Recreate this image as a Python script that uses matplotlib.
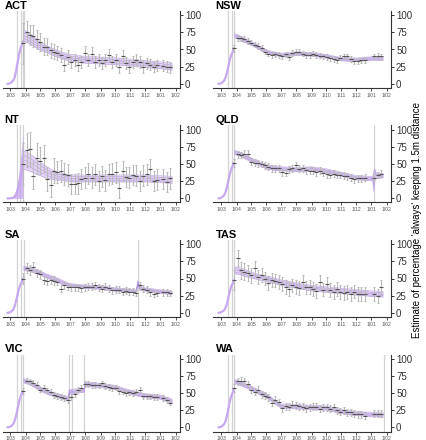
import numpy as np
import matplotlib
matplotlib.use("Agg")
import matplotlib.pyplot as plt

plt.rcParams['font.family'] = ['Liberation Sans', 'DejaVu Sans']

# days counted from 1 March 2020
month_ticks = [0, 31, 61, 92, 122, 153, 184, 214, 245, 275, 306, 337]
month_labels = ['1/03', '1/04', '1/05', '1/06', '1/07', '1/08', '1/09',
                '1/10', '1/11', '1/12', '1/01', '1/02']

states = ['ACT', 'NSW', 'NT', 'QLD', 'SA', 'TAS', 'VIC', 'WA']

# survey waves (point estimates)
survey_days = [26, 33, 40, 47, 54, 61, 68, 75, 82, 89, 96, 103, 110, 117, 124,
               131, 138, 145, 152, 159, 166, 173, 180, 187, 194, 201, 208, 215,
               222, 229, 236, 243, 250, 257, 264, 271, 278, 285, 292, 299,
               312, 319, 326]
nan = np.nan
pts_ACT = [59, 76, 71, 69, 65, 61, 54, 54, 49, 47, 45, 42, 28, 39, 32, 35, 28, 32, 45, 35,
           44, 32, 35, 30, 35, 42, 32, 35, 25, 40, 30, 25, 32, 35, 32, 25, 30, 28, 25, 27,
           26, 25, 24]
err_ACT = [30, 15, 14, 16, 14, 13, 12, 12, 11, 11, 10, 10, 9, 10, 9, 9, 9, 9, 10, 9,
           10, 9, 9, 9, 9, 9, 9, 9, 9, 9, 9, 9, 9, 9, 9, 9, 8, 8, 8, 8, 8, 8, 8]
pts_NSW = [52, 67, 66, 65, 62, 60, 57, 55, 52, 47, 44, 42, 43, 42, 40, 43, 39, 45, 46, 46,
           44, 42, 42, 44, 42, 41, 40, 39, 37, 36, 35, 38, 40, 40, 36, 33, 33, 34, 35, nan,
           40, 41, 40]
err_NSW = [5, 4, 4, 4, 4, 4, 4, 4, 4, 4, 4, 4, 4, 4, 4, 4, 4, 4, 4, 4,
           4, 4, 4, 4, 4, 4, 4, 4, 4, 4, 4, 4, 4, 4, 4, 4, 4, 4, 4, 4, 4, 4, 4]
pts_NT = [50, 70, 72, 33, 58, 55, 58, 28, 20, 40, 39, 40, 35, 34, 21, 21, 22, 28, 30, 36,
          30, 35, 25, 32, 26, 35, 36, 38, 15, 40, 31, 30, 34, 33, 25, 33, 35, 42, 25, 27,
          28, 24, 29]
err_NT = [30, 25, 25, 20, 22, 20, 20, 18, 18, 18, 16, 16, 16, 16, 15, 15, 15, 15, 15, 15,
          15, 15, 15, 15, 15, 15, 15, 15, 15, 15, 15, 15, 15, 15, 15, 15, 15, 15, 15, 15,
          15, 15, 15]
pts_QLD = [51, 64, 63, 65, 65, 53, 52, 51, 50, 48, 46, 44, 44, 44, 38, 37, 42, 44, 48, 43,
           44, 41, 40, 40, 38, 40, 37, 35, 34, 36, 34, 34, 33, 32, 30, 28, 29, 29, 30, nan,
           30, 34, 36]
err_QLD = [6, 5, 5, 5, 5, 5, 5, 5, 5, 5, 5, 5, 5, 5, 5, 5, 5, 5, 5, 5,
           5, 5, 5, 5, 5, 5, 5, 5, 5, 5, 5, 5, 5, 5, 5, 5, 5, 5, 5, 5, 5, 5, 5]
pts_SA = [50, 65, 62, 67, 58, 56, 48, 46, 48, 47, 45, 35, 40, 38, 37, 37, 37, 36, 37, 38,
          38, 40, 37, 35, 38, 36, 33, 34, 34, 31, 32, 31, 31, 29, 40, 35, 34, 30, 28, 29,
          30, 30, 29]
err_SA = [8, 7, 7, 7, 6, 6, 6, 6, 6, 6, 5, 5, 5, 5, 5, 5, 5, 5, 5, 5,
          5, 5, 5, 5, 5, 5, 5, 5, 5, 5, 5, 5, 5, 5, 5, 5, 5, 5, 5, 5, 5, 5, 5]
pts_TAS = [48, 80, 62, 60, 58, 55, 65, 52, 55, 50, 44, 48, 47, 45, 42, 38, 35, 40, 38, 36,
           45, 37, 38, 35, 32, 45, 34, 42, 33, 30, 35, 30, 29, 30, 28, 31, 28, 28, 27, nan,
           28, 25, 38]
err_TAS = [15, 12, 12, 12, 11, 11, 11, 10, 10, 10, 10, 10, 10, 10, 10, 10, 10, 10, 10, 10,
           10, 10, 10, 10, 10, 10, 10, 10, 10, 10, 10, 10, 10, 10, 10, 10, 10, 10, 10, 10,
           10, 10, 10]
pts_VIC = [53, 68, 67, 65, 62, 55, 57, 54, 52, 47, 46, 44, 43, 40, 44, 48, 55, 57, 63, 63,
           62, 62, 61, 64, 60, 59, 57, 58, 53, 52, 50, 51, 50, 52, 55, 46, 45, 45, 44, 44,
           43, 40, 36]
err_VIC = [5, 4, 4, 4, 4, 4, 4, 4, 4, 4, 4, 4, 4, 4, 4, 4, 4, 4, 4, 4,
           4, 4, 4, 4, 4, 4, 4, 4, 4, 4, 4, 4, 4, 4, 4, 4, 4, 4, 4, 4, 4, 4, 4]
pts_WA = [57, 67, 68, 67, 63, 55, 52, 55, 48, 46, 44, 36, 40, 37, 28, 31, 30, 33, 32, 31,
          30, 28, 29, 30, 30, 27, 29, 29, 27, 29, 25, 23, 25, 22, 22, 20, 19, 19, 17, nan,
          20, 20, 20]
err_WA = [6, 5, 5, 5, 5, 5, 5, 5, 5, 5, 5, 5, 5, 5, 5, 5, 5, 5, 5, 5,
          5, 5, 5, 5, 5, 5, 5, 5, 5, 5, 5, 5, 5, 5, 5, 5, 5, 5, 5, 5, 5, 5, 5]

# modelled rise in March
ramp_days = [-6, -2, 2, 6, 9, 12, 15, 18, 21, 24, 26]
ramp_ACT = [0, 0.5, 2, 5, 10, 20, 32, 44, 52, 58, 62]
ramp_NSW = [0, 0.5, 2, 5, 10, 18, 28, 37, 43, 48, 52]
ramp_NT = [0, 0, 0.5, 1, 3, 6, 12, 20, 30, 45, 60]
ramp_NT_hi = [0, 0, 1, 3, 8, 15, 25, 40, 60, 80, 95]
ramp_QLD = [0, 0.5, 2, 5, 10, 18, 28, 37, 44, 49, 52]
ramp_SA = [0, 0.5, 2, 5, 10, 18, 28, 36, 42, 46, 50]
ramp_TAS = [0, 0.5, 2, 4, 8, 15, 25, 33, 40, 44, 48]
ramp_VIC = [0, 0.5, 2, 5, 10, 18, 28, 38, 45, 50, 53]
ramp_WA = [0, 0.5, 2, 5, 10, 19, 30, 40, 47, 52, 56]

# modelled trend after the peak (mid and half width of band)
trend_days = [27, 35, 45, 61, 76, 92, 107, 122, 153, 184, 214, 245, 275, 306, 330]
trend_ACT = [70, 68, 63, 55, 50, 45, 41, 38, 35, 34, 33, 31, 29, 27, 25]
half_ACT = [8, 8, 7, 6, 5, 5, 5, 5, 5, 5, 5, 5, 5, 5, 5]
trend_NSW = [70, 68, 64, 59, 53, 47, 44, 42, 44, 43, 40, 36, 35, 37, 37]
half_NSW = [3, 3, 3, 2.5, 2.5, 2.5, 2.5, 2.5, 2.5, 2.5, 2.5, 2.5, 2.5, 2.5, 3]
trend_NT = [56, 54, 50, 43, 37, 33, 31, 29, 29, 29, 29, 29, 29, 28, 27]
half_NT = [13, 13, 12, 10, 8, 6, 5, 5, 5, 5, 5, 5, 5, 5, 5]
trend_days_QLD = [27, 35, 45, 61, 76, 92, 107, 122, 153, 184, 214, 245, 275, 306,
                  309, 311, 313, 316, 330]
trend_QLD = [67, 65, 62, 56, 51, 46, 44, 43, 42, 43, 40, 35, 30, 29, 28, 25, 35, 33, 33]
half_QLD = [3, 3, 3, 3, 3, 3, 3, 3, 3, 3, 3, 3, 3, 3, 4, 15, 8, 4, 3]
trend_days_SA = [27, 35, 45, 61, 76, 92, 107, 122, 153, 184, 214, 245, 257, 260, 264,
                 275, 306, 330]
trend_SA = [65, 64, 62, 58, 53, 49, 44, 40, 38, 37, 34, 32, 31, 44, 36, 34, 31, 29]
half_SA = [3, 3, 3, 3, 3, 3, 3, 2.5, 2.5, 2.5, 2.5, 2.5, 2.5, 3, 3, 2.5, 2.5, 2.5]
trend_TAS = [62, 61, 59, 55, 52, 50, 47, 44, 40, 36, 34, 32, 30, 28, 27]
half_TAS = [5, 5, 5, 4.5, 4, 4, 4, 4, 4, 4, 4, 4, 4, 4, 4]
trend_days_VIC = [27, 35, 45, 61, 76, 92, 107, 119, 120, 151, 152, 184, 214, 245, 275,
                  306, 330]
trend_VIC = [68, 66, 63, 56, 51, 47, 44, 41, 52, 54, 63, 61, 58, 51, 46, 44, 38]
half_VIC = [3, 3, 3, 3, 3, 3, 3, 3, 3, 3, 3, 3, 3, 3, 3, 3, 3]
trend_WA = [67, 65, 62, 57, 51, 46, 38, 31, 30, 29, 28, 23, 20, 19, 18]
half_WA = [3, 3, 3, 3, 3, 3, 3, 3, 3, 3, 3, 3, 3, 3, 3]

# policy dates (grey vertical lines)
vlines_ACT = [13, 21, 25, 27]
vlines_NSW = [13, 21, 25]
vlines_NT = [13, 20, 25]
vlines_QLD = [13, 21, 25, 311]
vlines_SA = [13, 21, 27, 260]
vlines_TAS = [13, 21, 25]
vlines_VIC = [13, 21, 25, 120, 126, 151]
vlines_WA = [13, 21, 25, 332]

data = {
    'ACT': (pts_ACT, err_ACT, ramp_ACT, trend_days, trend_ACT, half_ACT, vlines_ACT),
    'NSW': (pts_NSW, err_NSW, ramp_NSW, trend_days, trend_NSW, half_NSW, vlines_NSW),
    'NT': (pts_NT, err_NT, ramp_NT, trend_days, trend_NT, half_NT, vlines_NT),
    'QLD': (pts_QLD, err_QLD, ramp_QLD, trend_days_QLD, trend_QLD, half_QLD, vlines_QLD),
    'SA': (pts_SA, err_SA, ramp_SA, trend_days_SA, trend_SA, half_SA, vlines_SA),
    'TAS': (pts_TAS, err_TAS, ramp_TAS, trend_days, trend_TAS, half_TAS, vlines_TAS),
    'VIC': (pts_VIC, err_VIC, ramp_VIC, trend_days_VIC, trend_VIC, half_VIC, vlines_VIC),
    'WA': (pts_WA, err_WA, ramp_WA, trend_days, trend_WA, half_WA, vlines_WA),
}

ramp_col = '#c6a9ee'
band_col = '#dccaf3'
line_col = '#ad8fdc'
spine_col = '#333333'

fig = plt.figure(figsize=(4.26, 4.40), dpi=100)
W, H = 426.0, 440.0
col_left = [2.5, 213.5]
row_bottom = [88, 202.5, 317, 431.5]

for i, st in enumerate(states):
    r, c = i // 2, i % 2
    ax = fig.add_axes([col_left[c] / W, (H - row_bottom[r]) / H, 177 / W, 77 / H])
    pts, err, ramp, tdays, trend, half, vl = data[st]

    for d in vl:
        ax.axvline(d, color='#d2d2d2', lw=0.9, zorder=1)

    if st == 'NT':
        ax.fill_between(ramp_days, 0, ramp_NT_hi, color=ramp_col, alpha=0.8, lw=0, zorder=2)
    ax.plot(ramp_days, ramp, color=ramp_col, lw=1.6, zorder=3, solid_capstyle='round')

    tm = np.array(trend, float)
    hw = np.array(half, float)
    ax.fill_between(tdays, tm - hw, tm + hw, color=band_col, alpha=0.8, lw=0, zorder=2)
    for f in [-1, -0.5, 0, 0.5, 1]:
        ax.plot(tdays, tm + f * hw, color=line_col, lw=0.45, alpha=0.75, zorder=3)

    ax.errorbar(survey_days, pts, yerr=err, fmt='_', ms=2.5, mew=0.8, color='#555555',
                ecolor='#bbbbbb', elinewidth=0.8, capsize=0.8, capthick=0.5, zorder=4)

    ax.set_xlim(-16, 345)
    ax.set_ylim(-6, 106)
    ax.set_xticks(month_ticks)
    ax.set_xticklabels(month_labels, fontsize=3.6, color='#555555')
    ax.set_yticks([0, 25, 50, 75, 100])
    ax.yaxis.tick_right()
    ax.tick_params(axis='y', labelsize=7, length=2.5, width=0.7, pad=1.5,
                   colors=spine_col)
    ax.tick_params(axis='x', length=2, width=0.6, pad=1.5, colors=spine_col)
    for lab in ax.get_xticklabels():
        lab.set_color('#555555')
    ax.spines['top'].set_visible(False)
    ax.spines['left'].set_visible(False)
    ax.spines['right'].set_color(spine_col)
    ax.spines['bottom'].set_color(spine_col)
    ax.spines['right'].set_linewidth(0.8)
    ax.spines['bottom'].set_linewidth(0.8)
    ax.patch.set_alpha(0)
    ax.text(0.012, 1.005, st, transform=ax.transAxes, fontsize=8, fontweight='bold',
            ha='left', va='bottom')

fig.text(0.979, 0.5, "Estimate of percentage 'always' keeping 1.5m distance",
         rotation=90, ha='center', va='center', fontsize=7)

fig.savefig('out.png', dpi=100)
